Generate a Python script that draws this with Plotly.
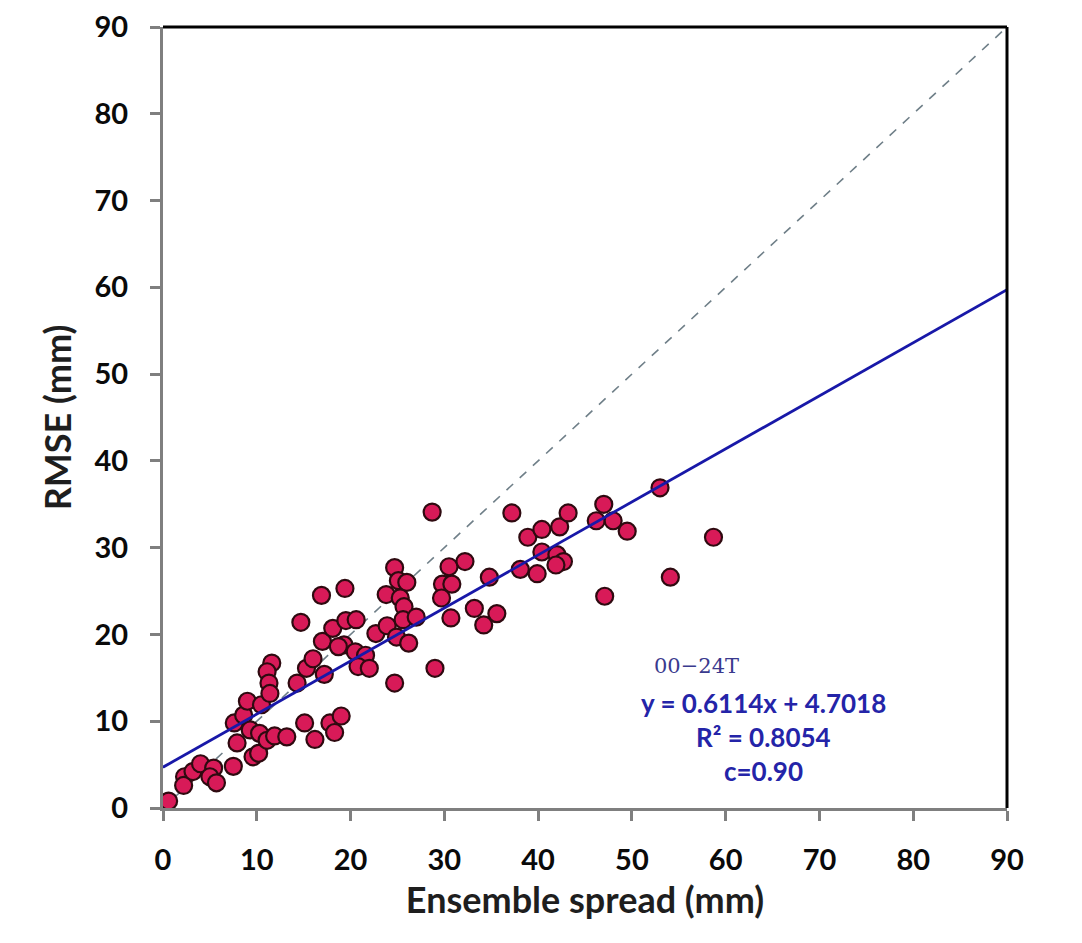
import plotly.graph_objects as go

# Ensemble spread (mm) vs RMSE (mm)
spread = [0.6, 2.3, 2.2, 3.2, 4.0, 5.4, 5.0, 5.7, 7.5, 9.6, 10.2, 7.9, 7.6, 8.6, 9.0,
          10.5, 9.3, 10.3, 11.1, 11.9, 13.2, 11.6, 11.1, 11.3, 11.4, 14.3, 15.3, 16.0,
          15.1, 16.2, 17.0, 14.7, 16.9, 19.4, 18.1, 19.5, 20.6, 19.3, 20.5, 21.6, 20.8,
          22.0, 17.2, 17.8, 18.3, 19.0, 22.7, 23.8, 23.9, 24.9, 26.2, 24.7, 25.1, 26.0,
          25.3, 25.7, 25.6, 27.0, 24.7, 29.0, 28.7, 29.8, 30.8, 29.7, 30.5, 32.2, 30.7,
          33.2, 34.2, 35.6, 34.8, 37.2, 38.9, 40.4, 42.3, 43.2, 40.4, 42.0, 42.7, 41.9,
          38.1, 39.9, 47.0, 46.2, 48.0, 49.5, 53.0, 58.7, 54.1, 47.1, 18.7]
rmse = [0.8, 3.6, 2.6, 4.2, 5.1, 4.6, 3.6, 2.9, 4.8, 5.9, 6.3, 7.5, 9.8, 10.7, 12.3,
        11.9, 9.0, 8.6, 7.8, 8.3, 8.2, 16.7, 15.7, 14.4, 13.2, 14.4, 16.1, 17.2,
        9.8, 7.9, 19.2, 21.4, 24.5, 25.3, 20.7, 21.6, 21.7, 18.8, 18.0, 17.6, 16.3,
        16.1, 15.4, 9.8, 8.7, 10.6, 20.1, 24.6, 21.0, 19.7, 19.0, 27.7, 26.2, 26.0,
        24.2, 23.2, 21.7, 22.0, 14.4, 16.1, 34.1, 25.8, 25.8, 24.2, 27.8, 28.4, 21.9,
        23.0, 21.1, 22.4, 26.6, 34.0, 31.2, 32.1, 32.4, 34.0, 29.5, 29.2, 28.4, 28.0,
        27.5, 27.0, 35.0, 33.1, 33.1, 31.9, 36.9, 31.2, 26.6, 24.4, 18.6]

slope = 0.6114
intercept = 4.7018
axis_range = [0, 90]
tick_vals = [0, 10, 20, 30, 40, 50, 60, 70, 80, 90]

label_case = "00\u221224T"
label_fit = "y = 0.6114x + 4.7018"
label_r2 = "R\u00b2 = 0.8054"
label_c = "c=0.90"

fig = go.Figure()

# 1:1 reference line
fig.add_trace(go.Scatter(x=axis_range, y=axis_range, mode="lines",
                         line=dict(color="#6f7f88", width=1.6, dash="dash"),
                         hoverinfo="skip", showlegend=False))

fig.add_trace(go.Scatter(x=spread, y=rmse, mode="markers",
                         marker=dict(size=17, color="#d81a58",
                                     line=dict(color="#2e0a10", width=2.2)),
                         showlegend=False))

fit_x = axis_range
fit_y = [slope * v + intercept for v in fit_x]
fig.add_trace(go.Scatter(x=fit_x, y=fit_y, mode="lines",
                         line=dict(color="#1818a8", width=2.8),
                         hoverinfo="skip", showlegend=False))

tick_font = dict(family="Lato", size=29, color="#0a0a0a", weight="bold")
title_font = dict(family="Lato", size=36, color="#1e1e1e", weight="bold")

fig.update_xaxes(range=axis_range, tickvals=tick_vals, showgrid=False, zeroline=False,
                 automargin=False,
                 showline=True, linecolor="#7f7f7f", linewidth=3,
                 ticks="outside", ticklen=10, tickwidth=2.5, tickcolor="#7f7f7f",
                 tickfont=tick_font, ticklabelstandoff=14,
                 title=dict(text="Ensemble spread (mm)", font=title_font, standoff=14))
fig.update_yaxes(range=axis_range, tickvals=tick_vals, showgrid=False, zeroline=False,
                 automargin=False,
                 showline=True, linecolor="#7f7f7f", linewidth=3,
                 ticks="outside", ticklen=10, tickwidth=2.5, tickcolor="#7f7f7f",
                 tickfont=tick_font, ticklabelstandoff=16,
                 title=dict(text="RMSE (mm)", font=title_font, standoff=12))

shapes = [
    # top and right frame lines (black)
    dict(type="line", xref="paper", yref="paper", x0=0, x1=1, y0=1, y1=1,
         line=dict(color="#000000", width=3)),
    dict(type="line", xref="paper", yref="paper", x0=1, x1=1, y0=0, y1=1,
         line=dict(color="#000000", width=3)),
]

ann_blue = "#2424a8"
annotations = [
    dict(x=0.6327, y=0.1818, xref="paper", yref="paper", text=label_case, showarrow=False,
         xanchor="center", yanchor="middle",
         font=dict(family="DejaVu Serif", size=21, color="#3a3a8e")),
    dict(x=0.711, y=0.1344, xref="paper", yref="paper", text=label_fit, showarrow=False,
         xanchor="center", yanchor="middle",
         font=dict(family="Lato", size=26, color=ann_blue, weight="bold")),
    dict(x=0.711, y=0.0909, xref="paper", yref="paper", text=label_r2, showarrow=False,
         xanchor="center", yanchor="middle",
         font=dict(family="Lato", size=26, color=ann_blue, weight="bold")),
    dict(x=0.711, y=0.0474, xref="paper", yref="paper", text=label_c, showarrow=False,
         xanchor="center", yanchor="middle",
         font=dict(family="Lato", size=26, color=ann_blue, weight="bold")),
]

fig.update_layout(width=1074, height=935,
                  margin=dict(l=155, r=75, t=19, b=135, autoexpand=False),
                  paper_bgcolor="#ffffff", plot_bgcolor="#ffffff",
                  shapes=shapes, annotations=annotations, showlegend=False)

fig.write_html("out.html")
